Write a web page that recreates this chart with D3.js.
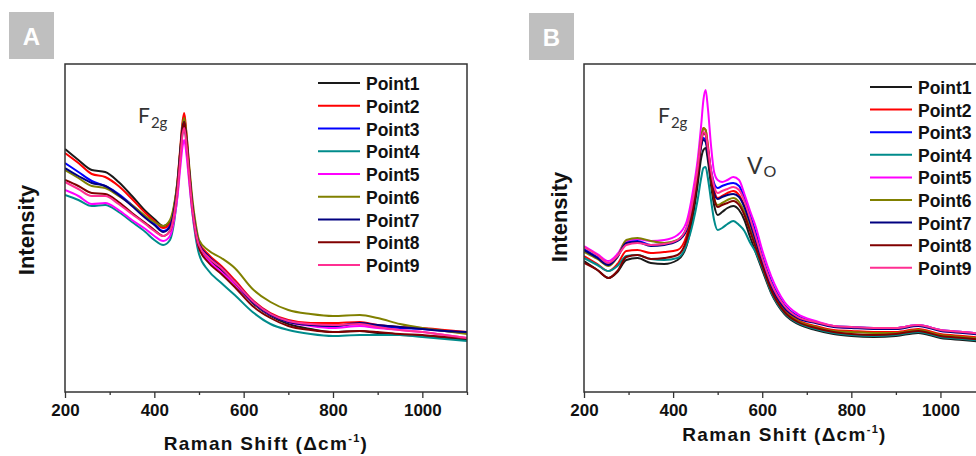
<!DOCTYPE html>
<html><head><meta charset="utf-8">
<script src="https://cdn.jsdelivr.net/npm/d3@7"></script>
<style>body{margin:0;background:#fff;} svg{display:block;}</style>
</head><body>
<svg id="chart" width="976" height="456"></svg>
<script>
// ---------- DATA ----------
const seriesNames = ["Point1","Point2","Point3","Point4","Point5","Point6","Point7","Point8","Point9"];
const seriesColors = ["#1a1a1a","#ff0000","#0000ff","#008b8b","#ff00ff","#808000","#000080","#800000","#ff2f92"];
const xTickMajor = [200,400,600,800,1000];
const xTickMinor = [300,500,700,900,1100];

// Panel A: Raman shift (cm-1) and intensities (a.u.)
const shiftA = [200,230,260,290,320,350,380,400,420,435,445,452,458,463,467,472,478,485,492,500,520,550,580,620,660,700,750,800,860,900,950,1000,1050,1100];
const A_Point1 = [243,232,222,220,210,196,181,173,166,170,187,210,240,264,272,254,222,187,164,147,134,122,108,89,76,68,63,60,61,59,57,56,54,52];
const A_Point2 = [239,229,218,215,206,193,179,171,164,168,186,212,244,270,279,258,224,189,166,150,138,126,112,92,79,72,69,69,70,67,65,64,62,60];
const A_Point3 = [229,220,211,206,198,187,175,168,161,166,184,208,237,261,268,251,220,186,163,148,136,124,110,91,78,71,67,66,68,66,64,63,61,59];
const A_Point4 = [197,192,186,187,180,170,160,152,147,152,172,198,232,259,267,247,214,180,156,138,122,109,97,80,68,62,58,56,57,57,57,55,53,51];
const A_Point5 = [202,196,188,189,182,172,163,156,151,156,174,196,224,245,252,237,210,180,159,144,132,120,108,90,77,70,66,64,66,64,62,60,57,54];
const A_Point6 = [222,214,206,204,196,187,176,170,166,172,189,212,242,267,274,258,227,194,170,152,142,134,124,103,90,82,78,76,77,74,68,64,61,58];
const A_Point7 = [224,216,209,206,197,186,174,167,160,165,184,208,240,264,270,252,221,187,164,148,136,124,110,90,77,70,67,66,69,67,65,63,61,60];
const A_Point8 = [212,206,199,198,190,179,169,162,156,161,180,205,237,262,270,252,220,185,161,144,130,118,105,86,74,66,62,60,61,60,58,57,55,54];
const A_Point9 = [210,203,196,196,188,178,168,161,156,161,179,202,232,257,264,247,217,184,162,147,135,124,110,91,78,71,68,67,68,65,62,60,57,54];

// Panel B
const shiftB = [200,230,255,275,295,320,350,380,410,430,445,455,463,468,473,478,485,492,500,510,522,535,548,560,572,585,600,620,650,680,720,760,800,850,900,950,1000,1050,1100];
const B_Point1 = [131,122,114,120,132,134,129,128,132,146,177,207,234,242,244,232,207,187,177,180,184,186,182,172,156,140,122,99,78,68,62,58,56,55,56,59,54,52,50];
const B_Point2 = [136,128,121,128,141,142,139,140,142,156,187,220,252,264,262,247,220,202,194,196,199,201,197,186,170,152,130,106,83,72,66,62,61,60,60,63,58,56,54];
const B_Point3 = [143,135,128,136,150,151,147,148,152,164,192,222,247,254,252,242,222,209,204,206,208,209,206,194,178,160,136,111,87,76,70,66,65,64,64,67,62,60,58];
const B_Point4 = [134,127,121,126,136,137,133,132,134,147,170,192,214,224,225,214,192,172,162,164,168,171,167,161,150,140,124,100,79,69,63,59,57,56,57,60,55,53,51];
const B_Point5 = [146,138,131,138,151,153,151,152,157,170,202,232,267,292,302,284,247,220,212,210,212,215,212,198,182,166,142,116,90,78,71,66,64,64,64,67,62,60,58];
const B_Point6 = [140,133,126,135,152,154,151,149,152,162,189,222,254,264,262,244,214,194,187,189,192,194,190,180,164,147,127,103,81,71,65,61,60,59,59,62,57,55,53];
const B_Point7 = [142,134,127,135,149,150,146,147,151,162,189,220,246,252,250,237,214,199,193,195,197,198,195,185,170,152,130,106,84,74,69,65,64,63,63,66,61,59,57];
const B_Point8 = [129,122,114,121,135,137,133,134,137,152,184,217,249,259,257,242,214,194,185,187,189,191,187,177,162,145,126,102,80,70,64,60,58,57,58,61,56,54,52];
const B_Point9 = [145,137,129,136,147,149,147,148,152,164,194,224,252,260,258,244,222,206,199,201,203,205,202,191,175,156,134,109,86,75,70,66,65,64,64,67,62,60,58];

const intensityDomain = [0, 328];
const shiftDomain = [200, 1100];

// ---------- DRAW ----------
const svg = d3.select("#chart");
const boldFont = "'Liberation Sans', Arial, Helvetica, sans-serif";
const annFont = "Lato, 'Open Sans', sans-serif";

function drawPanel(cfg) {
  const x = d3.scaleLinear().domain(shiftDomain).range([cfg.left, cfg.right]);
  const y = d3.scaleLinear().domain(intensityDomain).range([cfg.bottom, cfg.top]);
  const g = svg.append("g");

  // panel letter box
  g.append("rect").attr("x", cfg.box[0]).attr("y", cfg.box[1]).attr("width", 45).attr("height", 47)
    .attr("fill", "#bfbfbf");
  g.append("text").attr("x", cfg.box[0] + 22.5).attr("y", cfg.box[1] + 33)
    .attr("text-anchor", "middle").attr("fill", "#fff")
    .style("font-family", boldFont).style("font-weight", "bold").style("font-size", "24px")
    .text(cfg.letter);

  // clip
  const clipId = "clip" + cfg.letter;
  svg.append("clipPath").attr("id", clipId).append("rect")
    .attr("x", cfg.left).attr("y", cfg.top).attr("width", cfg.right - cfg.left).attr("height", cfg.bottom - cfg.top);

  // lines
  const line = d3.line().x(d => x(d[0])).y(d => y(d[1])).curve(d3.curveMonotoneX);
  const lg = g.append("g").attr("clip-path", `url(#${clipId})`);
  cfg.series.forEach((vals, i) => {
    const pts = cfg.xs.map((s, j) => [s, vals[j]]);
    lg.append("path").attr("d", line(pts)).attr("fill", "none")
      .attr("stroke", seriesColors[i]).attr("stroke-width", 2).attr("stroke-linejoin", "round");
  });

  // frame
  g.append("rect").attr("x", cfg.left).attr("y", cfg.top)
    .attr("width", cfg.right - cfg.left).attr("height", cfg.bottom - cfg.top)
    .attr("fill", "none").attr("stroke", "#333").attr("stroke-width", 1.5);

  // x axis
  const ax = g.append("g").attr("transform", `translate(0,${cfg.bottom})`)
    .call(d3.axisBottom(x).tickValues(xTickMajor).tickSize(6).tickSizeOuter(0).tickPadding(6).tickFormat(d3.format("d")));
  ax.select(".domain").remove();
  ax.selectAll("line").attr("stroke", "#333").attr("stroke-width", 1.3);
  ax.selectAll("text").attr("fill", "#111")
    .style("font-family", boldFont).style("font-weight", "bold").style("font-size", "17px");
  const axm = g.append("g").attr("transform", `translate(0,${cfg.bottom})`)
    .call(d3.axisBottom(x).tickValues(xTickMinor).tickSize(3).tickSizeOuter(0).tickFormat(""));
  axm.select(".domain").remove();
  axm.selectAll("line").attr("stroke", "#333").attr("stroke-width", 1.3);

  // x title
  const xt = g.append("text").attr("x", (cfg.left + cfg.right) / 2).attr("y", cfg.xTitleY)
    .attr("text-anchor", "middle").attr("fill", "#111")
    .style("font-family", boldFont).style("font-weight", "bold").style("font-size", "19px")
    .style("letter-spacing", "1.3px");
  xt.append("tspan").text("Raman Shift (\u0394cm");
  xt.append("tspan").attr("dy", -8).style("font-size", "11px").text("-1");
  xt.append("tspan").attr("dy", 8).text(")");

  // y title
  g.append("text").attr("transform", `translate(${cfg.yTitle[0]},${cfg.yTitle[1]}) rotate(-90)`)
    .attr("text-anchor", "middle").attr("fill", "#111")
    .style("font-family", boldFont).style("font-weight", "bold").style("font-size", "22px")
    .text("Intensity");

  // legend
  seriesNames.forEach((name, i) => {
    const ly = cfg.legend[1] + i * cfg.legendStep;
    g.append("line").attr("x1", cfg.legend[0]).attr("x2", cfg.legend[0] + 42)
      .attr("y1", ly).attr("y2", ly).attr("stroke", seriesColors[i]).attr("stroke-width", 2);
    g.append("text").attr("x", cfg.legend[0] + 48).attr("y", ly + 7)
      .attr("fill", "#111").style("font-family", boldFont).style("font-weight", "bold").style("font-size", "17.5px")
      .text(name);
  });

  // annotations
  cfg.annotations.forEach(a => {
    const t = g.append("text").attr("x", a.x).attr("y", a.y).attr("fill", "#333")
      .style("font-family", annFont).style("font-size", a.size + "px");
    t.append("tspan").text(a.main);
    t.append("tspan").attr("dy", a.subDy).attr("dx", 1).style("font-size", a.subSize + "px").text(a.sub);
  });
}

drawPanel({
  letter: "A", box: [9, 12], left: 65, right: 467, top: 64, bottom: 392,
  xs: shiftA,
  series: [A_Point1, A_Point2, A_Point3, A_Point4, A_Point5, A_Point6, A_Point7, A_Point8, A_Point9],
  legend: [318, 83], legendStep: 22.75,
  xTitleY: 450, yTitle: [34, 230],
  annotations: [{x: 138, y: 123, main: "F", sub: "2g", size: 21, subSize: 15, subDy: 5}]
});

drawPanel({
  letter: "B", box: [529, 13], left: 584, right: 985, top: 64, bottom: 392,
  xs: shiftB,
  series: [B_Point1, B_Point2, B_Point3, B_Point4, B_Point5, B_Point6, B_Point7, B_Point8, B_Point9],
  legend: [870, 87], legendStep: 22.6,
  xTitleY: 441, yTitle: [567, 217],
  annotations: [
    {x: 658, y: 123, main: "F", sub: "2g", size: 21, subSize: 15, subDy: 5},
    {x: 747, y: 174, main: "V", sub: "O", size: 23, subSize: 16, subDy: 3}
  ]
});
</script>
</body></html>
